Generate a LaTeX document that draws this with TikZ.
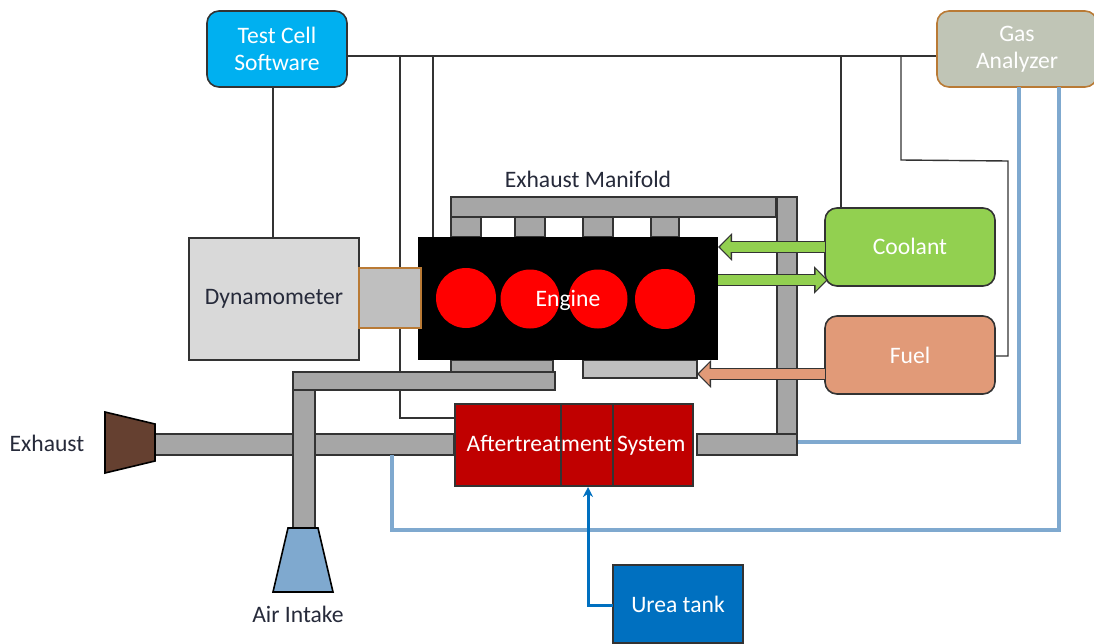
\documentclass[tikz,border=0pt]{standalone}
\usepackage{fontspec}
\setmainfont{Carlito}
\usetikzlibrary{arrows.meta,backgrounds,calc}
\definecolor{edge}{HTML}{333333}
\definecolor{pipe}{HTML}{A6A6A6}
\definecolor{lpipe}{HTML}{BFBFBF}
\definecolor{brownedge}{HTML}{B97A35}
\definecolor{sensor}{HTML}{7FA9CF}
\definecolor{greenc}{HTML}{92D050}
\definecolor{fuelc}{HTML}{E19A78}
\definecolor{urea}{HTML}{0070C0}
\definecolor{testc}{HTML}{00B0F0}
\definecolor{gasc}{HTML}{C0C5B6}
\definecolor{nozzle}{HTML}{654030}
\definecolor{afterc}{HTML}{C00000}
\definecolor{labelc}{HTML}{262A3A}
\tikzset{
  x=1pt,y=-1pt,
  every node/.style={font=\fontsize{23.6}{27.5}\selectfont,inner sep=0pt,outer sep=0pt,align=center},
  pipebox/.style={draw=edge,line width=1.8pt,fill=pipe,rectangle},
  softbox/.style={draw=edge,line width=1.6pt,rounded corners=12pt,text=white,rectangle},
  wire/.style={draw=edge,line width=1.4pt},
  probe/.style={draw=sensor,line width=4.5pt},
  labeltext/.style={text=labelc},
}
\newcommand{\rectnode}[6]{%
  \node[#1,minimum width=#5pt-#3pt,minimum height=#6pt-#4pt] (#2) at ({(#3+#5)/2},{(#4+#6)/2})}
\newcommand{\blockarrow}[4]{%
  \draw[line width=12pt,draw=#4,-{Triangle[length=14pt,width=27pt]}] #1 -- #2;
  \draw[line width=9.5pt,draw=#3,shorten >=2pt,-{Triangle[length=10.5pt,width=21pt]}] #1 -- #2;}
\begin{document}
\begin{tikzpicture}
\useasboundingbox (0,0) rectangle (1094,643);
\clip (0,0) rectangle (1094,643);
% pipes
\rectnode{pipebox}{mantop}{451}{197}{776}{217} {};
\rectnode{pipebox}{manv}{777}{197}{797}{455} {};
\rectnode{pipebox}{ra}{451}{217}{481}{237} {};
\rectnode{pipebox}{rb}{515}{217}{545}{237} {};
\rectnode{pipebox}{rc}{583}{217}{613}{237} {};
\rectnode{pipebox}{rd}{651}{217}{679}{237} {};
\rectnode{pipebox}{inlow}{451}{360}{553}{372} {};
\rectnode{pipebox,fill=lpipe}{rail}{583}{360}{697}{378} {};
\rectnode{pipebox}{outl}{155}{434}{454}{455} {};
\rectnode{pipebox}{outr}{697}{434}{797}{455} {};
\rectnode{pipebox}{inv}{293}{390}{315}{528} {};
\rectnode{pipebox}{inh}{293}{372}{555}{390} {};
% engine
\rectnode{fill=black,rectangle}{engine}{418}{237}{718}{360} {};
\node[fill=red,circle,minimum size=60pt] (c1) at (466,298) {};
\node[fill=red,circle,minimum size=59pt] (c2) at (530,299) {};
\node[fill=red,circle,minimum size=59pt] (c3) at (598,299) {};
\node[fill=red,circle,minimum size=60pt] (c4) at (665,299) {};
\node[text=white] (enginetext) at (568,300) {Engine};
% dyno
\rectnode{draw=edge,line width=1.6pt,fill=black!15,rectangle,text=labelc}{dyno}{189}{238}{359}{360} {Dynamometer};
\rectnode{draw=brownedge,line width=1.6pt,fill=lpipe,rectangle}{shaft}{359}{268}{421}{328} {};
% aftertreatment
\rectnode{draw=edge,line width=1.6pt,fill=afterc,rectangle,text=white}{after}{455}{404}{693}{486} {\raisebox{1pt}{\hspace*{4pt}Aftertreatment System}};
% boxes
\rectnode{softbox,fill=testc}{test}{207}{11}{347}{87} {Test Cell\\Software};
\rectnode{softbox,draw=brownedge,fill=gasc}{gas}{937}{11}{1097}{87} {Gas\\Analyzer};
\rectnode{softbox,fill=greenc}{cool}{825}{208}{995}{286} {\raisebox{2pt}{Coolant}};
\rectnode{softbox,fill=fuelc}{fuel}{825}{316}{995}{394} {Fuel};
\rectnode{draw=edge,line width=1.2pt,fill=urea,rectangle,text=white}{ureatank}{613}{565}{743}{643} {Urea tank};
% nozzles
\draw[draw=black,line width=1.6pt,fill=nozzle] (105,412) -- (155,424) -- (155,461) -- (105,473) -- cycle;
\draw[draw=black,line width=1.6pt,fill=sensor] (288,528) -- (318,528) -- (333,592) -- (273,592) -- cycle;
% labels
\node[labeltext] (lblman) at (588,179) {Exhaust Manifold};
\node[labeltext] (lblex) at (47,443) {Exhaust};
\node[labeltext] (lblair) at (298,614) {Air Intake};
% connectors behind
\begin{scope}[on background layer]
\coordinate (w1) at (400,56);
\coordinate (w2) at (433,56);
\coordinate (w3) at (841,56);
\coordinate (w4) at (901,56);
\draw[wire] (test.east |- w1) -- (gas.west |- w1);
\draw[wire] (273,87) -- (273,238);
\draw[wire] (w1) -- (400,418) -- (after.west |- 0,418);
\draw[wire] (w2) -- (433,237);
\draw[wire] (w3) -- (841,208);
\draw[wire] (w4) -- (901,160) -- (1008,161) -- (1008,356) -- (fuel.east |- 0,356);
\end{scope}
\draw[edge,line width=1.3pt] (561,404) -- (561,486) (613,404) -- (613,486);
\draw[probe] (1019,87) -- (1019,442) -- (798,442);
\draw[probe] (1059,87) -- (1059,530) -- (392,530) -- (392,455);
\draw[urea,line width=3pt,-{Stealth[length=10pt,width=10pt]}] (ureatank.west |- 0,605) -- (588,605) -- (588,487);
% block arrows
\blockarrow{(cool.west |- 0,247)}{(engine.east |- 0,247)}{greenc}{edge}
\blockarrow{(engine.east |- 0,280)}{(828,280)}{greenc}{edge}
\blockarrow{(fuel.west |- 0,374)}{(rail.east |- 0,374)}{fuelc}{edge}
\end{tikzpicture}
\end{document}
